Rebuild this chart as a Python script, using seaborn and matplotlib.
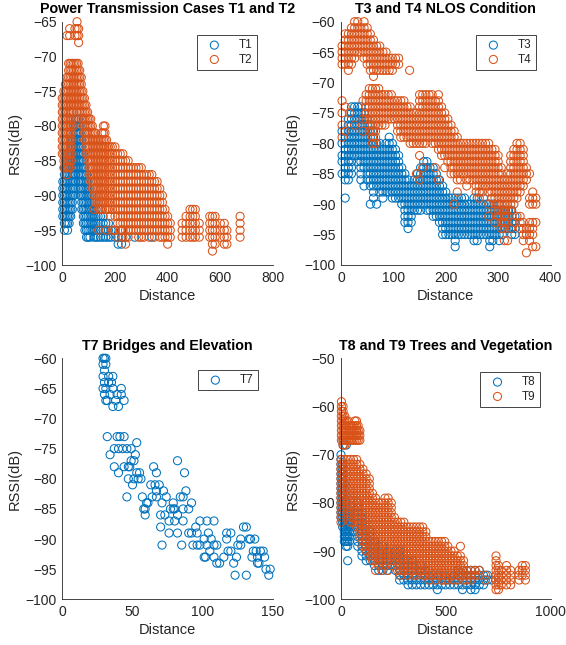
import matplotlib
matplotlib.use("Agg")
import matplotlib.pyplot as plt
import seaborn as sns
import pandas as pd

sns.set_theme(style="white")
plt.rcParams["font.family"] = ["Liberation Sans", "DejaVu Sans"]

BLUE = "#0072BD"
ORANGE = "#D95319"

# ---------------- Panel 1: T1 / T2 (columns: distance -> RSSI readings) ----------------
t1_dist = [2, 8, 14, 20, 26, 32, 38, 44, 50, 56, 62, 68, 74, 80, 86, 92, 98, 105, 112,
           120, 128, 136, 145, 155, 165, 175, 185, 200, 212, 225, 240, 275, 340]
t1_rssi = [
    [-88, -89, -90, -91, -92, -93],
    [-86, -87, -88, -89, -90, -91, -92, -93, -94, -95],
    [-85, -86, -87, -88, -89, -90, -91, -92, -93, -94],
    [-84, -85, -86, -87, -88, -89, -90, -91, -92, -93, -94, -95],
    [-84, -85, -86, -87, -88, -89, -90, -91, -92, -93, -94],
    [-82, -83, -84, -85, -86, -87, -88, -89, -90, -91, -92, -93],
    [-82, -83, -84, -85, -86, -87, -88, -89, -90, -91, -92],
    [-80, -81, -82, -83, -84, -85, -86, -87, -88, -89, -90],
    [-79, -80, -81, -82, -83, -84, -85, -86, -87, -88],
    [-78, -79, -80, -81, -82, -83, -84, -85, -86],
    [-79, -80, -81, -82, -83, -84, -85, -86, -87, -88],
    [-80, -81, -82, -83, -84, -85, -86, -87, -88, -89, -90],
    [-82, -83, -84, -85, -86, -87, -88, -89, -90, -91, -92],
    [-84, -85, -86, -87, -88, -89, -90, -91, -92, -93, -94],
    [-86, -87, -88, -89, -90, -91, -92, -93, -94, -95],
    [-87, -88, -89, -90, -91, -92, -93, -94, -95, -96],
    [-88, -89, -90, -91, -92, -93, -94, -95, -96],
    [-89, -90, -91, -92, -93, -94, -95, -96],
    [-90, -91, -92, -93, -94, -95],
    [-91, -92, -93, -94, -95, -96],
    [-92, -93, -94, -95, -96],
    [-92, -93, -94, -95, -96],
    [-93, -94, -95, -96],
    [-93, -94, -95, -96],
    [-94, -95, -96],
    [-94, -95, -96],
    [-95, -96],
    [-95, -96],
    [-96, -97],
    [-95, -96, -97],
    [-96],
    [-96],
    [-96],
]

t2_dist = [18, 28, 48, 56, 62,
           0, 6, 12, 18, 24, 30, 36, 42, 48, 54, 60, 66, 72, 78, 84, 90, 96, 102, 108,
           114, 120, 126, 132, 138, 144, 150, 156, 162, 168, 175, 182, 190, 200, 210,
           220, 230, 240, 250, 260, 270, 280, 290, 300, 310, 320, 330, 340, 350, 360,
           370, 380, 390, 400, 410,
           455, 470, 485, 495, 505, 520, 560, 570, 580, 600, 615, 625, 675]
t2_rssi = [
    [-67], [-66, -67], [-66, -67], [-65, -66, -67], [-66, -67, -68],
    [-76, -77, -78, -79, -80, -81, -82, -83, -84],
    [-75, -76, -77, -78, -79, -80, -81, -82, -83, -84, -85, -86],
    [-74, -75, -76, -77, -78, -79, -80, -81, -82, -83, -84, -85, -86],
    [-73, -74, -75, -76, -77, -78, -79, -80, -81, -82, -83, -84, -85, -86, -87],
    [-71, -72, -73, -74, -75, -76, -77, -78, -79, -80, -81, -82, -83, -84, -85, -86],
    [-71, -72, -73, -74, -75, -76, -77, -78, -79, -80, -81, -82, -83, -84, -85, -86],
    [-71, -72, -73, -74, -75, -76, -77, -78, -79, -80, -81, -82, -83, -84, -85],
    [-71, -72, -73, -74, -75, -76, -77, -78, -79, -80],
    [-71, -72, -73, -74, -75, -76, -77],
    [-71, -72, -73, -74, -75, -76, -77],
    [-71, -72, -73, -74, -75, -76, -77],
    [-72, -73, -74, -75, -76, -77, -78],
    [-73, -74, -75, -76, -77, -78, -79],
    [-75, -76, -77, -78, -79, -80],
    [-76, -77, -78, -79, -80, -81, -82],
    [-77, -78, -79, -80, -81, -82, -83, -84],
    [-78, -79, -80, -81, -82, -83, -84, -85],
    [-79, -80, -81, -82, -83, -84, -85, -86, -87],
    [-79, -80, -81, -82, -83, -84, -85, -86, -87, -88],
    [-80, -81, -82, -83, -84, -85, -86, -87, -88, -89],
    [-81, -82, -83, -84, -85, -86, -87, -88, -89, -90, -92],
    [-81, -82, -83, -84, -85, -86, -87, -88, -89, -90, -91],
    [-82, -83, -84, -85, -86, -87, -88, -89, -90, -91],
    [-82, -83, -84, -85, -86, -87, -88, -89, -90, -91, -92, -95],
    [-82, -83, -84, -85, -86, -87, -88, -89, -90, -91, -92],
    [-81, -82, -83, -84, -85, -86, -87, -88, -89, -90, -91, -92],
    [-80, -81, -82, -83, -84, -85, -86, -87, -88, -89, -90, -91],
    [-80, -81, -82, -83, -84, -85, -86, -87, -88, -89, -90, -91, -92],
    [-82, -83, -84, -85, -86, -87, -88, -89, -90, -91, -92, -95],
    [-83, -84, -85, -86, -87, -88, -89, -90, -91, -92],
    [-83, -84, -85, -86, -87, -88, -89, -90, -91, -92, -93],
    [-83, -84, -85, -86, -87, -88, -89, -90, -91, -92, -95],
    [-83, -84, -85, -86, -87, -88, -89, -90, -91, -92, -93, -95],
    [-84, -85, -86, -87, -88, -89, -90, -91, -92, -93, -94, -96],
    [-84, -85, -86, -87, -88, -89, -90, -91, -92, -93, -94, -95],
    [-84, -85, -86, -87, -88, -89, -90, -91, -92, -93, -94, -95, -96],
    [-85, -86, -87, -88, -89, -90, -91, -92, -93, -94, -95, -96, -97],
    [-85, -86, -87, -88, -89, -90, -91, -92, -93, -94, -95, -96],
    [-86, -87, -88, -89, -90, -91, -92, -93, -94, -95],
    [-86, -87, -88, -89, -90, -91, -92, -93, -94, -95],
    [-86, -87, -88, -89, -90, -91, -92, -93, -94, -95],
    [-86, -87, -88, -89, -90, -91, -92, -93, -94, -95, -96],
    [-86, -87, -88, -89, -90, -91, -92, -93, -94, -95, -96],
    [-87, -88, -89, -90, -91, -92, -93, -94, -95, -96],
    [-87, -88, -89, -90, -91, -92, -93, -94, -95],
    [-87, -88, -89, -90, -91, -92, -93, -94, -95, -96],
    [-87, -88, -89, -90, -91, -92, -93, -94, -95],
    [-88, -89, -90, -91, -92, -93, -94, -95, -96],
    [-88, -89, -90, -91, -92, -93, -94, -95],
    [-89, -90, -91, -92, -93, -94, -95, -96],
    [-90, -91, -92, -93, -94, -95, -96],
    [-92, -93, -94, -95, -96],
    [-93, -94, -95, -96, -97],
    [-94, -95, -96],
    [-94, -95, -96],
    [-93, -94, -95, -96],
    [-92, -93, -94, -95, -96],
    [-92, -93, -94, -95, -96],
    [-92, -93, -94, -95, -96],
    [-94, -95, -96],
    [-93, -94, -95, -96],
    [-93, -94, -95, -96, -97, -98],
    [-93, -94, -95, -96, -97],
    [-94, -95, -96],
    [-94, -95, -96, -97],
    [-95, -96, -97],
    [-93, -94, -95, -96],
]

# ---------------- Panel 2: T3 / T4 ----------------
t3_dist = [2, 8, 14, 20, 26, 32, 38, 44, 50, 56, 62, 68, 74, 80, 86, 92, 98, 104, 110,
           116, 122, 128, 134, 140, 146, 152, 158, 164, 170, 176, 182, 188, 194, 200,
           206, 212, 218, 224, 230, 236, 242, 248, 254, 260, 266, 272, 278, 284, 290,
           296, 302, 308, 314, 320, 326, 332]
t3_rssi = [
    [-78, -80, -82, -83, -85],
    [-78, -79, -80, -81, -82, -83, -84, -85, -86, -89],
    [-76, -77, -78, -79, -80, -81, -82, -83, -84, -85, -86],
    [-74, -75, -76, -77, -78, -79, -80, -81, -82, -83, -84, -85],
    [-74, -75, -76, -77, -78, -79, -80, -81, -82],
    [-74, -75, -76, -77, -78, -79, -80, -81, -82, -83],
    [-74, -75, -76, -77, -78, -79, -80, -81, -82, -83, -84, -85, -86],
    [-75, -76, -77, -78, -79, -80, -81, -82, -83, -84, -87],
    [-76, -77, -78, -79, -80, -81, -82, -83, -84, -85, -86],
    [-77, -78, -79, -80, -81, -82, -83, -84, -85, -86, -87, -90],
    [-78, -79, -80, -81, -82, -83, -84, -85, -86, -87, -88, -89],
    [-80, -81, -82, -83, -84, -85, -86, -87, -90],
    [-80, -81, -82, -83, -84, -85, -86, -87, -88],
    [-81, -82, -83, -84, -85, -86, -87, -88, -89],
    [-80, -81, -82, -83, -84, -85, -86, -87, -88],
    [-79, -80, -81, -82, -83, -84, -85, -86, -87, -88],
    [-80, -81, -82, -83, -84, -85, -86, -87, -88, -89],
    [-81, -82, -83, -84, -85, -86, -87, -88, -89],
    [-82, -83, -84, -85, -86, -87, -88, -89],
    [-84, -85, -86, -87, -88, -89, -90],
    [-85, -86, -87, -88, -89, -90, -91, -92, -93],
    [-86, -87, -88, -89, -90, -91, -92, -93, -94],
    [-87, -88, -89, -90, -91, -92, -93],
    [-86, -87, -88, -89, -90, -91],
    [-85, -86, -87, -88, -89, -90, -91],
    [-84, -85, -86, -87, -88, -89, -90, -91],
    [-83, -84, -85, -86, -87, -88, -89, -90],
    [-83, -84, -85, -86, -87, -88, -89, -90, -91],
    [-84, -85, -86, -87, -88, -89, -90, -91],
    [-84, -85, -86, -87, -88, -89, -90, -91, -92],
    [-85, -86, -87, -88, -89, -90, -91, -92],
    [-86, -87, -88, -89, -90, -91, -92, -93],
    [-87, -88, -89, -90, -91, -92, -93, -94, -95],
    [-88, -89, -90, -91, -92, -93, -94, -95],
    [-89, -90, -91, -92, -93, -94, -95],
    [-89, -90, -91, -92, -93, -94, -95],
    [-89, -90, -91, -92, -93, -94, -95, -96, -97],
    [-89, -90, -91, -92, -93, -94, -95],
    [-89, -90, -91, -92, -93, -94, -95],
    [-89, -90, -91, -92, -93, -94, -95],
    [-90, -91, -92, -93, -94, -95],
    [-90, -91, -92, -93, -94, -95],
    [-89, -90, -91, -92, -93, -94, -95, -96],
    [-89, -90, -91, -92, -93, -94, -95, -96],
    [-90, -91, -92, -93, -94, -95],
    [-89, -90, -91, -92, -93, -94, -95],
    [-90, -91, -92, -93, -94, -95],
    [-90, -91, -92, -93, -94, -95, -96, -97],
    [-90, -91, -92, -93, -94, -95, -96],
    [-91, -92, -93, -94, -95],
    [-90, -91, -92, -93, -94, -95, -96],
    [-91, -92, -93, -94, -95],
    [-91, -92, -93, -94],
    [-91, -92, -93, -94],
    [-91, -92, -93, -94, -95],
    [-92, -93, -94, -95],
]

t4_dist = [2, 8, 14, 20, 26, 32, 38, 44, 50, 56, 62, 68, 74, 80, 86, 92, 98, 104, 110, 131,
           2, 8, 16, 26, 42, 48, 54, 60, 66, 72, 78, 84, 90, 96, 102, 108, 114, 120, 126,
           132, 138, 144, 150, 156, 162, 168, 174, 180, 186, 192, 198, 204, 210, 216, 222,
           228, 234, 240, 246, 252, 258, 264, 270, 276, 282, 288, 294, 300, 306, 312, 318,
           324, 330, 336, 342, 348, 354, 360, 366, 372]
t4_rssi = [
    [-64, -65, -66, -67],
    [-62, -63, -64, -65, -66, -67],
    [-62, -63, -64, -65, -66, -67, -68],
    [-61, -62, -63, -64, -65, -66, -67],
    [-60, -61, -62, -63, -64, -65, -66],
    [-60, -61, -62, -63, -64, -65],
    [-61, -62, -63, -64, -65],
    [-60, -61, -62, -63, -64, -65, -66],
    [-61, -62, -63, -64, -65, -66, -67],
    [-62, -63, -64, -65, -66, -67, -68],
    [-63, -64, -65, -66, -67, -68, -69],
    [-64, -65, -66, -67, -68],
    [-64, -65, -66, -67, -68],
    [-65, -66, -67, -68],
    [-65, -66, -67, -68],
    [-66, -67, -68],
    [-66, -67, -68],
    [-66, -67],
    [-66, -67],
    [-68],
    [-73, -75, -77, -79],
    [-74, -78],
    [-75],
    [-77],
    [-73, -76, -78],
    [-72, -73, -74, -75, -76],
    [-71, -72, -73, -74, -75, -76, -77, -78],
    [-71, -72, -73, -74, -75, -76, -77, -78, -79, -80],
    [-71, -72, -73, -74, -75, -76, -77, -78, -79, -80],
    [-71, -72, -73, -74, -75, -76, -77],
    [-72, -73, -74, -75, -76, -77],
    [-72, -73, -74, -75, -76, -77],
    [-72, -73, -74, -75, -76],
    [-72, -73, -74, -75, -76],
    [-73, -74, -75, -76],
    [-73, -74, -75, -76, -77, -78],
    [-73, -74, -75, -76, -77, -78, -79],
    [-73, -74, -75, -76, -77, -78, -79],
    [-74, -75, -76, -77, -78, -79],
    [-74, -75, -76, -77, -78, -79, -80],
    [-75, -76, -77, -78, -79, -80],
    [-75, -76, -77, -78, -79, -80, -85],
    [-72, -73, -74, -75, -76, -77, -78, -79, -80, -82, -86],
    [-72, -73, -74, -75, -76, -77, -78, -79, -80, -84],
    [-72, -73, -74, -75, -76, -77, -78, -79, -80],
    [-72, -73, -74, -75, -76, -77, -78, -79],
    [-72, -73, -74, -75, -76, -77, -78, -79, -80],
    [-73, -74, -75, -76, -77, -78, -79, -80, -84],
    [-72, -73, -74, -75, -76, -77, -78, -79, -80, -81, -86],
    [-74, -75, -76, -77, -78, -79, -80, -81, -82],
    [-75, -76, -77, -78, -79, -80, -81, -82, -84],
    [-76, -77, -78, -79, -80, -81, -82, -83],
    [-77, -78, -79, -80, -81, -82, -83, -84, -85],
    [-78, -79, -80, -81, -82, -83, -84, -85, -90],
    [-79, -80, -81, -82, -83, -84, -85, -86, -88],
    [-80, -81, -82, -83, -84, -85, -86],
    [-80, -81, -82, -83, -84, -85],
    [-80, -81, -82, -83, -84, -85, -86, -87],
    [-80, -81, -82, -83, -84, -85, -86],
    [-80, -81, -82, -83, -84, -85, -86],
    [-80, -81, -82, -83, -84, -85, -86, -87, -88],
    [-80, -81, -82, -83, -84, -85, -86, -87, -88, -89],
    [-80, -81, -82, -83, -84, -85, -86, -87, -88],
    [-80, -81, -82, -83, -84, -85, -86, -87],
    [-80, -81, -82, -83, -84, -85, -86, -87, -88, -90, -92],
    [-81, -82, -83, -84, -85, -86, -87, -88, -89],
    [-81, -82, -83, -84, -85, -86, -87, -88, -89, -90, -91, -93],
    [-82, -83, -84, -85, -86, -87, -88, -89, -90, -91, -92],
    [-84, -85, -86, -87, -88, -89, -90, -91, -92, -93, -94],
    [-86, -87, -88, -89, -90, -91, -92, -93, -94, -96],
    [-85, -86, -87, -88, -89, -90, -91, -92, -93, -96],
    [-82, -83, -84, -85, -86, -87, -88, -89, -90, -91, -94],
    [-81, -82, -83, -84, -85, -86, -87, -88, -89, -90, -93],
    [-80, -81, -82, -83, -84, -85, -86, -87, -88, -89, -92],
    [-80, -81, -82, -83, -84, -85, -86, -87, -88, -92, -93, -94],
    [-81, -82, -83, -84, -85, -86, -87, -93, -94, -95, -96],
    [-84, -85, -86, -94, -95, -98],
    [-85, -89, -90, -93, -94, -95, -96],
    [-88, -89, -90, -93, -94, -95, -97],
    [-89, -90, -93, -97],
]

# ---------------- Panel 3: T7 (individual readings) ----------------
t7_dist = [29, 30, 31, 29, 31, 30, 29, 33, 36, 30, 33, 35, 29, 31, 36, 42, 30, 34, 39, 42,
           31, 32, 38, 44, 36, 40,
           32, 39, 41, 44, 37, 40, 43, 46, 49, 53, 34, 52, 49, 51, 37, 44, 47, 48, 40,
           47, 51, 54, 56, 53, 55, 50, 65, 67, 82, 87, 46, 57, 63, 66, 69, 67, 60, 61,
           58, 59, 59, 64, 67, 71, 72, 74, 70, 73, 70, 76, 71, 76, 77, 79, 80, 79, 82,
           84, 86, 88, 92, 90, 86, 80, 86, 85, 82, 90, 92, 96, 98, 103, 108, 95, 93,
           96, 98, 101, 101, 102, 104, 106, 103, 105, 108, 110, 108, 110, 112, 115,
           117, 120, 117, 118, 120, 122, 123, 124, 127, 129, 131, 125, 127, 131, 133,
           136, 138, 141, 135, 139, 139, 145, 148, 147, 143, 134, 137, 144, 140]
t7_rssi = [-60, -60, -60, -61, -61, -62, -63, -63, -63, -64, -64, -64, -65, -65, -65, -65,
           -66, -66, -66, -66, -67, -67, -67, -67, -68, -68,
           -73, -73, -73, -73, -75, -75, -75, -75, -75, -74, -76, -76, -77, -77, -78,
           -78, -78, -78, -79, -80, -80, -80, -80, -79, -79, -81, -78, -79, -77, -79,
           -83, -83, -81, -81, -81, -82, -84, -84, -85, -85, -86, -83, -83, -84, -82,
           -83, -86, -86, -88, -87, -91, -89, -85, -85, -85, -84, -86, -83, -83, -82,
           -84, -85, -85, -87, -87, -91, -89, -89, -89, -89, -87, -87, -87, -88, -91,
           -91, -91, -90, -93, -93, -89, -90, -91, -92, -91, -91, -93, -94, -94, -93,
           -89, -89, -90, -92, -92, -94, -96, -93, -90, -88, -88, -91, -91, -96, -90,
           -92, -92, -92, -93, -93, -94, -95, -95, -96, -92, -90, -90, -93, -94]

# ---------------- Panel 4: T8 / T9 ----------------
t8_dist = [10, 25, 0, 8, 16, 24, 32, 40, 60, 80, 100, 120, 140, 160, 180, 200, 220, 240,
           260, 280, 300, 320, 340, 360, 380, 400, 420, 440, 460, 480, 500, 520, 540,
           560, 580, 600, 620, 640, 660, 680, 700, 720]
t8_rssi = [
    [-67, -68], [-68],
    [-70, -71, -72, -73, -74, -75, -76, -77, -78, -79, -80, -81, -82, -83],
    [-72, -73, -74, -75, -76, -77, -78, -79, -80, -81, -82, -83, -84, -85],
    [-76, -77, -78, -79, -80, -81, -82, -83, -84, -85, -86, -87, -88],
    [-80, -81, -82, -83, -84, -85, -86, -87, -88, -89],
    [-82, -83, -84, -85, -86, -87, -88, -89, -92],
    [-82, -83, -84, -85, -86, -87, -88],
    [-78, -79, -80, -81, -82, -83, -84, -85, -86],
    [-80, -81, -82, -83, -84, -85, -86, -87, -88, -89],
    [-82, -83, -84, -85, -86, -87, -88, -89, -90, -91],
    [-84, -85, -86, -87, -88, -89, -90, -91, -92],
    [-86, -87, -88, -89, -90, -91, -92],
    [-88, -89, -90, -91, -92, -93],
    [-89, -90, -91, -92, -93, -94],
    [-89, -90, -91, -92, -93, -94],
    [-90, -91, -92, -93, -94],
    [-91, -92, -93],
    [-90, -91, -92, -93, -94],
    [-90, -91, -92, -93, -94, -95, -96],
    [-90, -91, -92, -93, -94, -95, -96],
    [-92, -93, -94, -95, -96, -97],
    [-92, -93, -94, -95, -96, -97],
    [-93, -94, -95, -96, -97],
    [-93, -94, -95, -96, -97],
    [-94, -95, -96, -97],
    [-94, -95, -96, -97],
    [-95, -96, -97],
    [-95, -96, -97, -98],
    [-95, -96, -97],
    [-95, -96, -97],
    [-95, -96, -97],
    [-95, -96, -97],
    [-94, -95, -96, -97],
    [-94, -95, -96, -97, -98],
    [-94, -95, -96, -97],
    [-94, -95, -96, -97, -98],
    [-94, -95, -96, -97, -98],
    [-94, -95, -96, -97],
    [-95, -96, -97],
    [-95, -96],
    [-96],
]

t9_dist = [2, 10, 18, 26, 34, 42, 50, 58, 66, 74, 82, 90,
           0, 15, 30, 45, 60, 75, 90, 105, 120, 135, 150, 165, 180, 195, 210, 225, 240,
           255, 270, 285, 300, 315, 330, 345, 360, 375, 390, 405, 420, 435, 450, 465,
           480, 495, 510, 525, 540, 555, 570, 585, 600, 620, 640, 660, 690,
           740, 752, 765, 790, 810, 850, 865, 880]
t9_rssi = [
    [-59, -60, -61, -62, -63, -64, -65, -66, -67],
    [-60, -61, -62, -63, -64, -65, -66, -67, -68],
    [-62, -63, -64, -65, -66, -67, -68],
    [-63, -64, -65, -66, -67],
    [-63, -64, -65, -66, -67],
    [-64, -65, -66, -67],
    [-64, -65, -66, -67],
    [-64, -65, -66, -67],
    [-63, -64, -65, -66, -67],
    [-63, -64, -65, -66, -67],
    [-64, -65, -66, -67],
    [-65, -66, -67],
    [-71, -72, -73, -74, -75, -76, -77, -78, -79, -80, -81, -82, -83, -84],
    [-71, -72, -73, -74, -75, -76, -77, -78, -79, -80, -81],
    [-71, -72, -73, -74, -75, -76, -77, -78, -79, -80, -81, -82],
    [-71, -72, -73, -74, -75, -76, -77, -78, -79, -80, -81, -82, -83, -84],
    [-71, -72, -73, -74, -75, -76, -77, -78, -79, -80, -81, -82, -83, -84],
    [-71, -72, -73, -74, -75, -76, -77, -78, -79, -80, -81, -82, -83, -84, -85],
    [-72, -73, -74, -75, -76, -77, -78, -79, -80, -81, -82, -83, -84, -85, -86, -87],
    [-73, -74, -75, -76, -77, -78, -79, -80, -81, -82, -83, -84, -85, -86, -87, -88, -89],
    [-74, -75, -76, -77, -78, -79, -80, -81, -82, -83, -84, -85, -86, -87, -88, -89, -90],
    [-75, -76, -77, -78, -79, -80, -81, -82, -83, -84, -85, -86, -87, -88, -89, -90, -91],
    [-78, -79, -80, -81, -82, -83, -84, -85, -86, -87, -88, -89, -90, -91, -92],
    [-79, -80, -81, -82, -83, -84, -85, -86, -87, -88, -89, -90, -91, -92, -94],
    [-80, -81, -82, -83, -84, -85, -86, -87, -88, -89, -90, -91, -92, -93],
    [-80, -81, -82, -83, -84, -85, -86, -87, -88, -89, -90, -91, -92, -94],
    [-79, -80, -81, -82, -83, -84, -85, -86, -87, -88, -89, -90, -91, -92, -93],
    [-79, -80, -81, -82, -83, -84, -85, -86, -87, -88, -89, -90, -91, -92, -94],
    [-80, -81, -82, -83, -84, -85, -86, -87, -88, -89, -90, -91, -92, -93],
    [-83, -84, -85, -86, -87, -88, -89, -90, -91, -92],
    [-84, -85, -86, -87, -88, -89, -90, -91, -92, -93, -94],
    [-84, -85, -86, -87, -88, -89, -90, -91, -92, -93, -94, -95],
    [-84, -85, -86, -87, -88, -89, -90, -91, -92, -93, -94],
    [-85, -86, -87, -88, -89, -90, -91, -92, -93, -94, -95],
    [-85, -86, -87, -88, -89, -90, -91, -92, -93, -94],
    [-85, -86, -87, -88, -89, -90, -91, -92, -93, -94, -95],
    [-85, -86, -87, -88, -89, -90, -91, -92, -93, -94, -95],
    [-85, -86, -87, -88, -89, -90, -91, -92, -93, -94],
    [-85, -86, -87, -88, -89, -90, -91, -92, -93, -94, -95],
    [-86, -87, -88, -89, -90, -91, -92, -93, -94, -95],
    [-88, -89, -90, -91, -92, -93, -94, -95, -96],
    [-88, -89, -90, -91, -92, -93, -94, -95],
    [-88, -89, -90, -91, -92, -93, -94, -95, -96],
    [-88, -89, -90, -91, -92, -93, -94, -95],
    [-88, -89, -90, -91, -92, -93, -94, -95, -96],
    [-88, -89, -90, -91, -92, -93, -94, -95, -96],
    [-89, -90, -91, -92, -93, -94, -95, -96],
    [-90, -91, -92, -93, -94, -95],
    [-90, -91, -92, -93, -94, -95, -96],
    [-91, -92, -93, -94, -95, -96],
    [-89, -91, -92, -93, -94, -95],
    [-92, -93, -94, -95, -96],
    [-94, -95, -96],
    [-94, -95, -96],
    [-94, -95],
    [-94, -95],
    [-95, -96],
    [-91, -92, -93, -94, -95, -96, -97, -98],
    [-93, -94, -95, -96, -97, -98],
    [-94, -95, -96, -97],
    [-93, -94, -95, -96, -97],
    [-94, -95, -96, -97],
    [-94, -95, -96],
    [-93, -94, -95],
    [-93, -94, -95, -96],
]


def columns_to_frame(dist, rssi):
    xs, ys = [], []
    for d, col in zip(dist, rssi):
        for r in col:
            xs.append(d)
            ys.append(r)
    return pd.DataFrame({"Distance": xs, "RSSI": ys})


W, H = 566, 645
fig = plt.figure(figsize=(W / 100, H / 100), dpi=100)

col_l = [62.3, 341.0]
col_r = [273.0, 550.5]
row_t = [21.7, 358.3]
row_b = [265.0, 599.3]

TXT = "#262626"


def make_ax(r, c):
    l = col_l[c] / W
    w = (col_r[c] - col_l[c]) / W
    b = 1 - row_b[r] / H
    h = (row_b[r] - row_t[r]) / H
    return fig.add_axes([l, b, w, h])


def style(ax, title, xlim, xticks, ylim, yticks, anchor):
    ax.set_xlim(*xlim)
    ax.set_ylim(*ylim)
    ax.set_xticks(xticks)
    ax.set_yticks(yticks)
    for s in ["top", "right"]:
        ax.spines[s].set_visible(False)
    for s in ["left", "bottom"]:
        ax.spines[s].set_color(TXT)
        ax.spines[s].set_linewidth(0.6)
    ax.tick_params(direction="in", length=2.5, width=0.6, color=TXT,
                   labelcolor=TXT, labelsize=10, pad=4)
    ax.set_xlabel("Distance", fontsize=10.5, color=TXT, labelpad=3)
    ax.set_ylabel("RSSI(dB)", fontsize=10.5, color=TXT, labelpad=3)
    ax.set_title(title, fontsize=10.3, fontweight="bold", color="black", pad=6)
    leg = ax.legend(loc="upper right", bbox_to_anchor=anchor, borderaxespad=0,
                    fontsize=8.5, frameon=True, fancybox=False, framealpha=1,
                    edgecolor=TXT, borderpad=0.35, labelspacing=0.2,
                    handlelength=2.2, handletextpad=1.0, scatterpoints=1)
    leg.get_frame().set_linewidth(0.6)
    leg.set_zorder(5)
    ax.grid(False)


def scatter(ax, df, color, label):
    sns.scatterplot(data=df, x="Distance", y="RSSI", ax=ax, color=color,
                    facecolor="none", edgecolor=color, s=34, linewidth=0.75,
                    marker="o", label=label, legend=False, clip_on=False)


ax1 = make_ax(0, 0)
scatter(ax1, columns_to_frame(t1_dist, t1_rssi), BLUE, "T1")
scatter(ax1, columns_to_frame(t2_dist, t2_rssi), ORANGE, "T2")
style(ax1, "Power Transmission Cases T1 and T2", (0, 800), [0, 200, 400, 600, 800],
      (-100, -65), list(range(-100, -64, 5)), (0.924, 0.945))

ax2 = make_ax(0, 1)
scatter(ax2, columns_to_frame(t3_dist, t3_rssi), BLUE, "T3")
scatter(ax2, columns_to_frame(t4_dist, t4_rssi), ORANGE, "T4")
style(ax2, "T3 and T4 NLOS Condition", (0, 400), [0, 100, 200, 300, 400],
      (-100, -60), list(range(-100, -59, 5)), (0.931, 0.945))

ax3 = make_ax(1, 0)
scatter(ax3, pd.DataFrame({"Distance": t7_dist, "RSSI": t7_rssi}), BLUE, "T7")
style(ax3, "T7 Bridges and Elevation", (0, 150), [0, 50, 100, 150],
      (-100, -60), list(range(-100, -59, 5)), (0.929, 0.951))

ax4 = make_ax(1, 1)
scatter(ax4, columns_to_frame(t8_dist, t8_rssi), BLUE, "T8")
scatter(ax4, columns_to_frame(t9_dist, t9_rssi), ORANGE, "T9")
style(ax4, "T8 and T9 Trees and Vegetation", (0, 1000), [0, 500, 1000],
      (-100, -50), list(range(-100, -49, 10)), (0.95, 0.943))

fig.savefig("out.png", dpi=100)
